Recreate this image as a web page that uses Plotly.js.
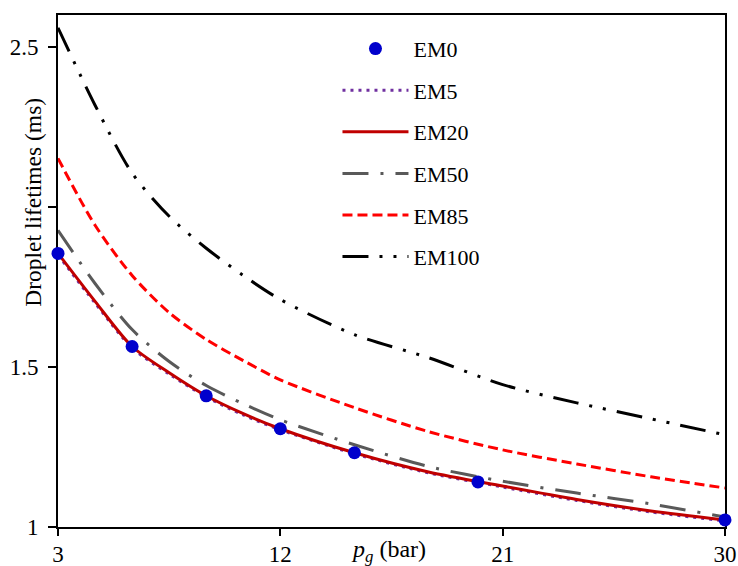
<!DOCTYPE html>
<html>
<head>
<meta charset="utf-8">
<script src="https://cdn.plot.ly/plotly-3.0.1.min.js"></script>
<style>html,body{margin:0;padding:0;background:#fff;}#chart{width:738px;height:566px;}</style>
</head>
<body>
<div id="chart"></div>
<script>
// Pressure (bar)
const pCurve = [3, 4.5, 6, 7.5, 9, 10.5, 12, 15, 18, 21, 24, 27, 30];
const pPoints = [3, 6, 9, 12, 15, 20, 30];

// Droplet lifetimes (ms)
const em0  = [1.855, 1.564, 1.410, 1.307, 1.232, 1.141, 1.022];
const em5  = [1.850, 1.700, 1.560, 1.478, 1.407, 1.350, 1.304, 1.229, 1.169, 1.125, 1.083, 1.047, 1.019];
const em20 = [1.855, 1.705, 1.564, 1.482, 1.410, 1.354, 1.307, 1.232, 1.172, 1.128, 1.086, 1.050, 1.022];
const em50 = [1.927, 1.761, 1.617, 1.517, 1.442, 1.385, 1.335, 1.257, 1.189, 1.143, 1.106, 1.072, 1.031];
const em85 = [2.152, 1.943, 1.786, 1.670, 1.586, 1.520, 1.460, 1.373, 1.298, 1.241, 1.197, 1.157, 1.122];
const em100 = [2.560, 2.318, 2.106, 1.971, 1.871, 1.786, 1.711, 1.601, 1.529, 1.445, 1.388, 1.338, 1.288];

const seriesNames = ['EM0', 'EM5', 'EM20', 'EM50', 'EM85', 'EM100'];
const yTickVals = [1, 1.5, 2, 2.5];
const yTickText = ['1', '1.5', '', '2.5'];
const xTickVals = [3, 12, 21, 30];

const FONT = 'Liberation Serif, Times New Roman, serif';

function lineTrace(name, y, color, dash, rank, width) {
  return {
    x: pCurve, y: y, name: name, type: 'scatter', mode: 'lines',
    line: {color: color, width: width || 3, dash: dash, shape: 'spline', smoothing: 0.8},
    legendgroup: name, legendrank: rank, cliponaxis: false
  };
}

const traces = [
  lineTrace(seriesNames[5], em100, '#000000', '26px,11px,3px,11px,3px,11px', 6),
  lineTrace(seriesNames[4], em85, '#FF0000', '10px,5px', 5),
  lineTrace(seriesNames[3], em50, '#595959', '26px,12px,3px,12px', 4),
  lineTrace(seriesNames[1], em5, '#7030A0', '3px,5px', 2),
  lineTrace(seriesNames[2], em20, '#C00000', 'solid', 3),
  {
    x: pPoints, y: em0, name: seriesNames[0], type: 'scatter', mode: 'markers',
    marker: {color: '#0000CC', size: 13},
    legendgroup: seriesNames[0], legendrank: 1, cliponaxis: false
  }
];

const layout = {
  width: 738, height: 566,
  margin: {l: 58, r: 13, t: 15, b: 39},
  paper_bgcolor: '#ffffff', plot_bgcolor: '#ffffff',
  font: {family: FONT, size: 22, color: '#000000'},
  showlegend: true,
  legend: {
    x: 0.419, y: 0.975, xanchor: 'left', yanchor: 'top',
    bgcolor: 'rgba(0,0,0,0)', borderwidth: 0,
    font: {family: FONT, size: 22, color: '#000000'},
    tracegroupgap: 10, itemwidth: 66
  },
  xaxis: {
    range: [3, 30], tickvals: xTickVals, ticktext: xTickVals.map(String),
    showgrid: false, zeroline: false, showline: true, linecolor: '#000000', linewidth: 2,
    mirror: true, ticks: 'outside', ticklen: 7, tickwidth: 2, tickcolor: '#000000',
    tickfont: {family: FONT, size: 23}, layer: 'below traces', ticklabelstandoff: -2
  },
  yaxis: {
    range: [1, 2.6], tickvals: yTickVals, ticktext: yTickText,
    showgrid: false, zeroline: false, showline: true, linecolor: '#000000', linewidth: 2,
    mirror: true, ticks: 'outside', ticklen: 8, tickwidth: 2, tickcolor: '#000000',
    tickfont: {family: FONT, size: 23}, layer: 'below traces', ticklabelstandoff: 5
  },
  annotations: [
    {
      text: 'Droplet lifetimes (ms)', textangle: -90,
      xref: 'paper', yref: 'paper', x: -0.037, y: 0.634,
      xanchor: 'center', yanchor: 'middle', showarrow: false,
      font: {family: FONT, size: 23.5, color: '#000000'}
    },
    {
      text: '<i>p</i><sub><i>g</i></sub> (bar)',
      xref: 'paper', yref: 'paper', x: 0.495, y: -0.046,
      xanchor: 'center', yanchor: 'middle', showarrow: false,
      font: {family: FONT, size: 24, color: '#000000'}
    }
  ]
};

Plotly.newPlot('chart', traces, layout, {displayModeBar: false, staticPlot: true});
</script>
</body>
</html>
